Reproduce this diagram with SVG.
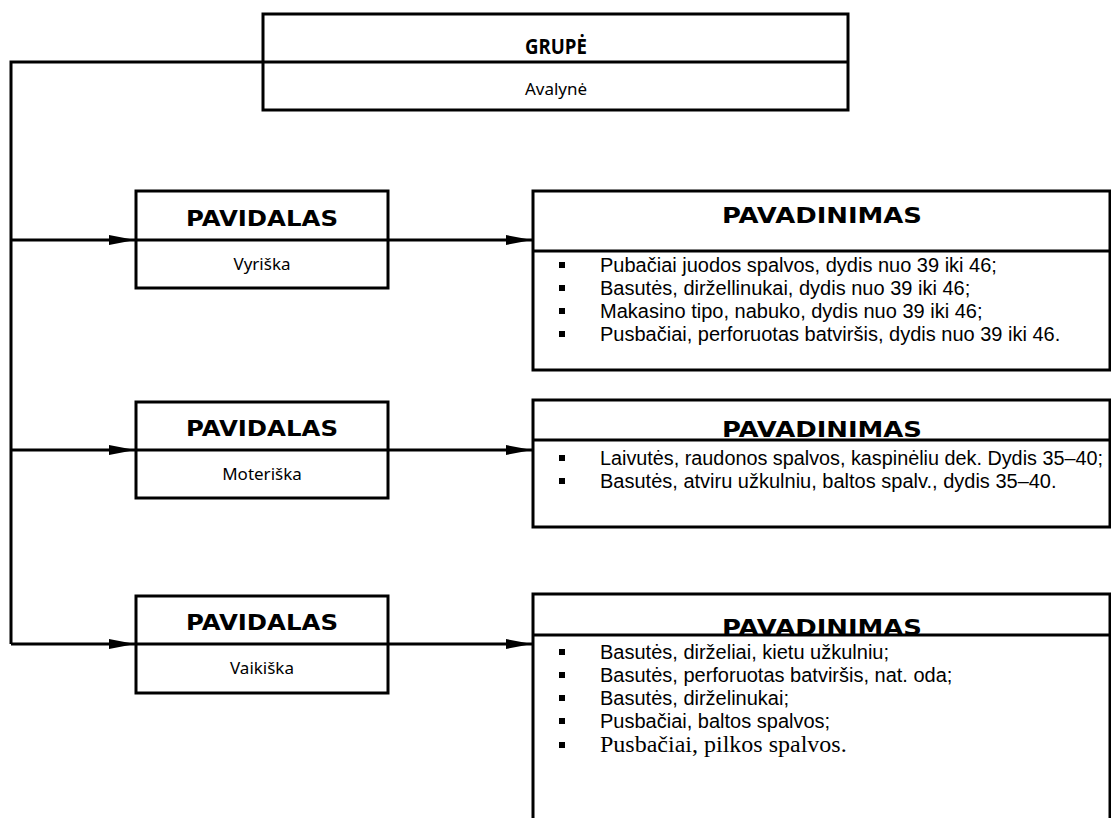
<svg xmlns="http://www.w3.org/2000/svg" width="1111" height="818" viewBox="0 0 1111 818">
<style>
.box{fill:#fff;stroke:#000;stroke-width:3}
.dv{stroke:#000;stroke-width:3}
.conn{stroke:#000;stroke-width:3;fill:none}
.hd{font-family:"DejaVu Sans",Verdana,sans-serif;font-weight:bold;font-size:22px;text-anchor:middle;fill:#000}
.gr{font-family:"Open Sans","DejaVu Sans",sans-serif;font-weight:bold;font-size:22px;text-anchor:middle;fill:#000}
.sub{font-family:"Noto Sans","DejaVu Sans",sans-serif;font-size:17px;text-anchor:middle;fill:#000}
.li{font-family:"Liberation Sans",Arial,sans-serif;font-size:20px;fill:#000}
.lis{font-family:"Liberation Serif","Times New Roman",serif;font-size:24px;fill:#000}
.bl{fill:#000}
</style>
<defs>
<marker id="ah" markerWidth="26" markerHeight="12" refX="26" refY="6" orient="auto" markerUnits="userSpaceOnUse">
<path d="M0,1 L26,6 L0,11 z" fill="#000"/>
</marker>
</defs>

<g id="connectors">
<path class="conn" d="M263,62 H11 V644"/>
<path class="conn" d="M11,240 H135" marker-end="url(#ah)"/>
<path class="conn" d="M11,450 H135" marker-end="url(#ah)"/>
<path class="conn" d="M11,644 H135" marker-end="url(#ah)"/>
<path class="conn" d="M388,240 H532" marker-end="url(#ah)"/>
<path class="conn" d="M388,450 H532" marker-end="url(#ah)"/>
<path class="conn" d="M388,644 H532" marker-end="url(#ah)"/>
</g>

<g id="grupe">
<rect class="box" x="263" y="14" width="585" height="96"/>
<line class="dv" x1="263" y1="62" x2="848" y2="62"/>
<text class="gr" x="556" y="54" textLength="62" lengthAdjust="spacingAndGlyphs">GRUPĖ</text>
<text class="sub" x="556" y="95">Avalynė</text>
</g>

<g id="pavidalas-1">
<rect class="box" x="136" y="191" width="252" height="97"/>
<line class="dv" x1="136" y1="240" x2="388" y2="240"/>
<text class="hd" x="262" y="226" textLength="152" lengthAdjust="spacingAndGlyphs">PAVIDALAS</text>
<text class="sub" x="262" y="270">Vyriška</text>
</g>

<g id="pavidalas-2">
<rect class="box" x="136" y="402" width="252" height="96"/>
<line class="dv" x1="136" y1="450" x2="388" y2="450"/>
<text class="hd" x="262" y="436" textLength="152" lengthAdjust="spacingAndGlyphs">PAVIDALAS</text>
<text class="sub" x="262" y="480">Moteriška</text>
</g>

<g id="pavidalas-3">
<rect class="box" x="136" y="596" width="252" height="97"/>
<line class="dv" x1="136" y1="644" x2="388" y2="644"/>
<text class="hd" x="262" y="630" textLength="152" lengthAdjust="spacingAndGlyphs">PAVIDALAS</text>
<text class="sub" x="262" y="674">Vaikiška</text>
</g>

<g id="pavadinimas-1">
<rect class="box" x="533" y="191" width="577" height="179"/>
<text class="hd" x="822" y="223" textLength="200" lengthAdjust="spacingAndGlyphs">PAVADINIMAS</text>
<line class="dv" x1="533" y1="251" x2="1110" y2="251"/>
<rect class="bl" x="559" y="262" width="6" height="6"/>
<text class="li" x="600" y="272">Pubačiai juodos spalvos, dydis nuo 39 iki 46;</text>
<rect class="bl" x="559" y="285" width="6" height="6"/>
<text class="li" x="600" y="295">Basutės, diržellinukai, dydis nuo 39 iki 46;</text>
<rect class="bl" x="559" y="308" width="6" height="6"/>
<text class="li" x="600" y="318">Makasino tipo, nabuko, dydis nuo 39 iki 46;</text>
<rect class="bl" x="559" y="331" width="6" height="6"/>
<text class="li" x="600" y="341">Pusbačiai, perforuotas batviršis, dydis nuo 39 iki 46.</text>
</g>

<g id="pavadinimas-2">
<rect class="box" x="533" y="400" width="577" height="127"/>
<text class="hd" x="822" y="437" textLength="200" lengthAdjust="spacingAndGlyphs">PAVADINIMAS</text>
<line class="dv" x1="533" y1="440" x2="1110" y2="440"/>
<rect class="bl" x="559" y="455" width="6" height="6"/>
<text class="li" x="600" y="465" textLength="503" lengthAdjust="spacingAndGlyphs">Laivutės, raudonos spalvos, kaspinėliu dek. Dydis 35–40;</text>
<rect class="bl" x="559" y="478" width="6" height="6"/>
<text class="li" x="600" y="488">Basutės, atviru užkulniu, baltos spalv., dydis 35–40.</text>
</g>

<g id="pavadinimas-3">
<rect class="box" x="533" y="594" width="577" height="240"/>
<text class="hd" x="822" y="635" textLength="200" lengthAdjust="spacingAndGlyphs">PAVADINIMAS</text>
<line class="dv" x1="533" y1="635" x2="1110" y2="635"/>
<rect class="bl" x="559" y="649" width="6" height="6"/>
<text class="li" x="600" y="659">Basutės, dirželiai, kietu užkulniu;</text>
<rect class="bl" x="559" y="672" width="6" height="6"/>
<text class="li" x="600" y="682">Basutės, perforuotas batviršis, nat. oda;</text>
<rect class="bl" x="559" y="695" width="6" height="6"/>
<text class="li" x="600" y="705">Basutės, dirželinukai;</text>
<rect class="bl" x="559" y="718" width="6" height="6"/>
<text class="li" x="600" y="728">Pusbačiai, baltos spalvos;</text>
<rect class="bl" x="559" y="742" width="6" height="6"/>
<text class="lis" x="600" y="752">Pusbačiai, pilkos spalvos.</text>
</g>
</svg>
